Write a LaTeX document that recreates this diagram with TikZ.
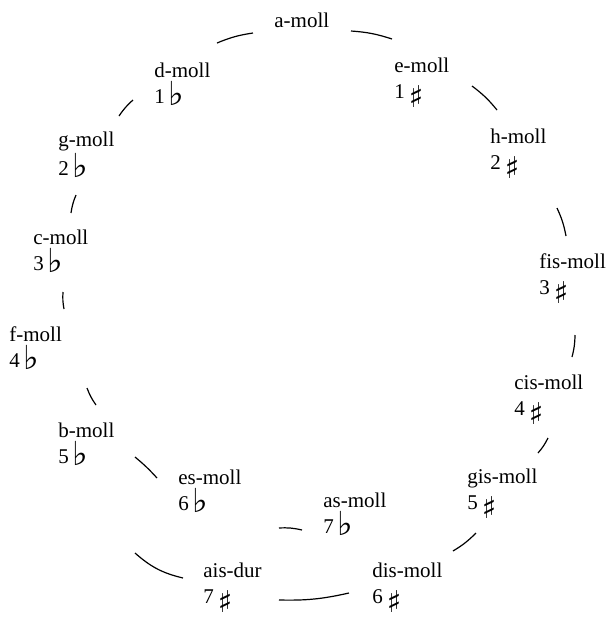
\documentclass[tikz,border=0pt]{standalone}
\usepackage{fontspec}
\setmainfont{Liberation Serif}
\newfontfamily\symf{DejaVu Sans Bold}
\newcommand{\fl}{\kern2pt{\symf\fontsize{16.5}{13}\selectfont\raisebox{-1pt}{♭}}}
\newcommand{\shp}{\kern2pt{\symf\fontsize{15}{13}\selectfont\raisebox{-4.5pt}[0pt][0pt]{♯}}}
\begin{document}
\begin{tikzpicture}[x=0.5pt,y=-0.5pt,
  key/.style={anchor=base west, align=left, inner sep=0pt, font=\fontsize{10.5}{13}\selectfont},
  conn/.style={line width=0.6pt, bend left=7}]
\useasboundingbox (0,0) rectangle (607,618);
% two-line keys are placed at the baseline of their second line
\node[key] (amoll) at (274,27) {a-moll};
\node[key] (dmoll) at (154,103) {d-moll\\1\fl};
\node[key] (emoll) at (394,98) {e-moll\\1\shp};
\node[key] (gmoll) at (58,175) {g-moll\\2\fl};
\node[key] (hmoll) at (490,169) {h-moll\\2\shp};
\node[key] (cmoll) at (33,270) {c-moll\\3\fl};
\node[key] (fismoll) at (539,294) {fis-moll\\3\shp};
\node[key] (fmoll) at (9,367) {f-moll\\4\fl};
\node[key] (cismoll) at (514,415) {cis-moll\\4\shp};
\node[key] (bmoll) at (58,463) {b-moll\\5\fl};
\node[key] (gismoll) at (467,509) {gis-moll\\5\shp};
\node[key] (esmoll) at (178,510) {es-moll\\6\fl};
\node[key] (asmoll) at (323,533) {as-moll\\7\fl};
\node[key] (aisdur) at (203,603) {ais-dur\\7\shp};
\node[key] (dismoll) at (372,603) {dis-moll\\6\shp};

\draw[conn] ([shift={(63,-60)}]dmoll.base west) to ([shift={(-21,6)}]amoll.base west);
\draw[conn] ([shift={(77,4)}]amoll.base west) to ([shift={(-2,-59)}]emoll.base west);
\draw[conn] ([shift={(78,-12)}]emoll.base west) to ([shift={(7,-59)}]hmoll.base west);
\draw[conn] ([shift={(67,39)}]hmoll.base west) to ([shift={(27,-58)}]fismoll.base west);
\draw[conn] ([shift={(36,41)}]fismoll.base west) to ([shift={(58,-58)}]cismoll.base west);
\draw[conn] ([shift={(34,23)}]cismoll.base west) to ([shift={(71,-56)}]gismoll.base west);
\draw[conn] ([shift={(9,24)}]gismoll.base west) to ([shift={(81,-52)}]dismoll.base west);
\draw[conn] ([shift={(-23,-10)}]dismoll.base west) to ([shift={(76,-3)}]aisdur.base west);
\draw[conn, bend left=14] ([shift={(-20,-25)}]aisdur.base west) to ([shift={(77,90)}]bmoll.base west);
\draw[conn] ([shift={(38,-58)}]bmoll.base west) to ([shift={(78,21)}]fmoll.base west);
\draw[conn] ([shift={(55,-58)}]fmoll.base west) to ([shift={(30,22)}]cmoll.base west);
\draw[conn] ([shift={(38,-57)}]cmoll.base west) to ([shift={(18,20)}]gmoll.base west);
\draw[conn] ([shift={(61,-59)}]gmoll.base west) to ([shift={(-21,-3)}]dmoll.base west);
\draw[conn, bend left=4] ([shift={(77,-6)}]bmoll.base west) to ([shift={(-21,-32)}]esmoll.base west);
\draw[conn, bend left=8] ([shift={(101,18)}]esmoll.base west) to ([shift={(-21,-3)}]asmoll.base west);
\end{tikzpicture}
\end{document}
